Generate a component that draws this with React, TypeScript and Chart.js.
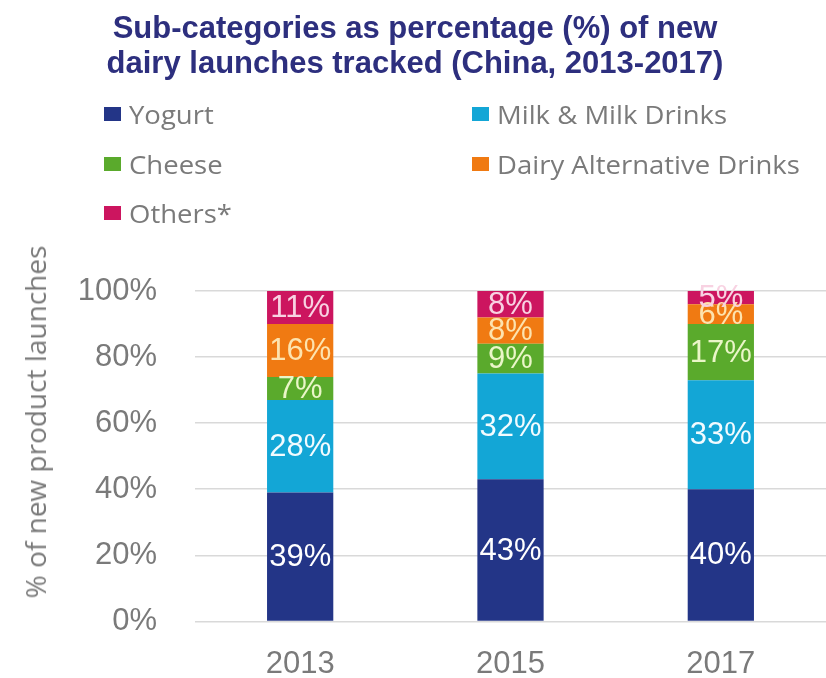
import React, { useEffect, useRef } from "react";
import { Chart, registerables } from "chart.js";

Chart.register(...registerables);

const TITLE_LINES = ["Sub-categories as percentage (%) of new", "dairy launches tracked (China, 2013-2017)"];
const Y_TITLE = "% of new product launches";
const YEARS = ["2013", "2015", "2017"];
const SERIES_NAMES = ["Yogurt", "Milk & Milk Drinks", "Cheese", "Dairy Alternative Drinks", "Others*"];
const YOGURT = [39, 43, 40];
const MILK = [28, 32, 33];
const CHEESE = [7, 9, 17];
const DAIRY_ALT = [16, 8, 6];
const OTHERS = [11, 8, 5];
const Y_TICKS = [0, 20, 40, 60, 80, 100];

const COLORS = ["#233587", "#13a6d6", "#5aaa2c", "#f07a12", "#cc155f"];
const LABEL_COLORS = ["#ffffff", "#f2fbff", "#eaf6c8", "#fde3ae", "#f8d2e2"];

const segLabels = {
  id: "segLabels",
  afterDatasetsDraw(chart: any) {
    const ctx = chart.ctx;
    const area = chart.chartArea;
    chart.data.datasets.forEach((ds: any, i: number) => {
      const meta = chart.getDatasetMeta(i);
      meta.data.forEach((el: any, j: number) => {
        const top = Math.max(Math.min(el.y, el.base), area.top);
        const bottom = Math.min(Math.max(el.y, el.base), area.bottom);
        const cy = (top + bottom) / 2;
        ctx.save();
        ctx.font = '31px "Liberation Sans"';
        ctx.fillStyle = LABEL_COLORS[i];
        ctx.textAlign = "center";
        ctx.textBaseline = "middle";
        ctx.fillText(ds.data[j] + "%", el.x, cy + 1);
        ctx.restore();
      });
    });
  },
};

export default function App() {
  const ref = useRef<HTMLCanvasElement | null>(null);

  useEffect(() => {
    if (!ref.current) return;
    const values = [YOGURT, MILK, CHEESE, DAIRY_ALT, OTHERS];
    const chart = new Chart(ref.current, {
      type: "bar",
      data: {
        labels: YEARS,
        datasets: values.map((v, i) => ({
          label: SERIES_NAMES[i],
          data: v,
          backgroundColor: COLORS[i],
          borderWidth: 0,
          barPercentage: 0.315,
          categoryPercentage: 1,
          clip: 0,
        })),
      },
      options: {
        responsive: false,
        animation: false,
        layout: { padding: { top: 291, right: 0, bottom: 0, left: 0 } },
        plugins: {
          legend: { display: false },
          title: { display: false },
          tooltip: { enabled: false },
        },
        scales: {
          x: {
            stacked: true,
            grid: { display: false, drawTicks: false },
            border: { display: false },
            ticks: {
              color: "#7a7a7a",
              font: { family: "Liberation Sans", size: 31 },
              padding: 24,
            },
            afterFit: (s: any) => {
              s.height = 54;
            },
          },
          y: {
            stacked: true,
            min: 0,
            max: 100,
            afterBuildTicks: (s: any) => {
              s.ticks = Y_TICKS.map((v) => ({ value: v }));
            },
            grid: { color: "#d9d9d9", lineWidth: 1.5, drawTicks: false },
            border: { display: false },
            ticks: {
              color: "#7a7a7a",
              font: { family: "Liberation Sans", size: 31 },
              padding: 38,
              callback: (v: any) => v + "%",
            },
            afterFit: (s: any) => {
              s.width = 195;
            },
          },
        },
      },
      plugins: [segLabels],
    });
    return () => chart.destroy();
  }, []);

  const legendPos = [
    { x: 104, y: 114 },
    { x: 472, y: 114 },
    { x: 104, y: 164 },
    { x: 472, y: 164 },
    { x: 104, y: 213 },
  ];

  return (
    <div style={{ position: "absolute", left: 0, top: 0, width: 826, height: 678, background: "#fff", overflow: "hidden" }}>
      <canvas ref={ref} width={826} height={678} style={{ position: "absolute", left: 0, top: 0 }} />
      <div
        style={{
          position: "absolute",
          left: 4,
          top: 10,
          width: 822,
          textAlign: "center",
          fontFamily: '"Liberation Sans", Arial, sans-serif',
          fontWeight: "bold",
          fontSize: 31,
          lineHeight: "35px",
          color: "#2d2f7e",
        }}
      >
        {TITLE_LINES.map((t) => (
          <div key={t}>{t}</div>
        ))}
      </div>
      {SERIES_NAMES.map((name, i) => (
        <div
          key={name}
          style={{
            position: "absolute",
            left: legendPos[i].x,
            top: legendPos[i].y - 16,
            height: 32,
            display: "flex",
            alignItems: "center",
            fontFamily: '"Open Sans", sans-serif',
            fontSize: 25,
            color: "#7a7a7a",
            whiteSpace: "nowrap",
          }}
        >
          <span style={{ display: "inline-block", width: 17, height: 14, background: COLORS[i], marginRight: 8 }} />
          <span style={{ display: "inline-block", transform: "scaleX(1.1)", transformOrigin: "left center" }}>{name}</span>
        </div>
      ))}
      <div
        style={{
          position: "absolute",
          left: 35,
          top: 422,
          transform: "translate(-50%, -50%) rotate(-90deg)",
          fontFamily: '"Open Sans", sans-serif',
          fontSize: 28,
          color: "#7a7a7a",
          whiteSpace: "nowrap",
        }}
      >
        {Y_TITLE}
      </div>
    </div>
  );
}
